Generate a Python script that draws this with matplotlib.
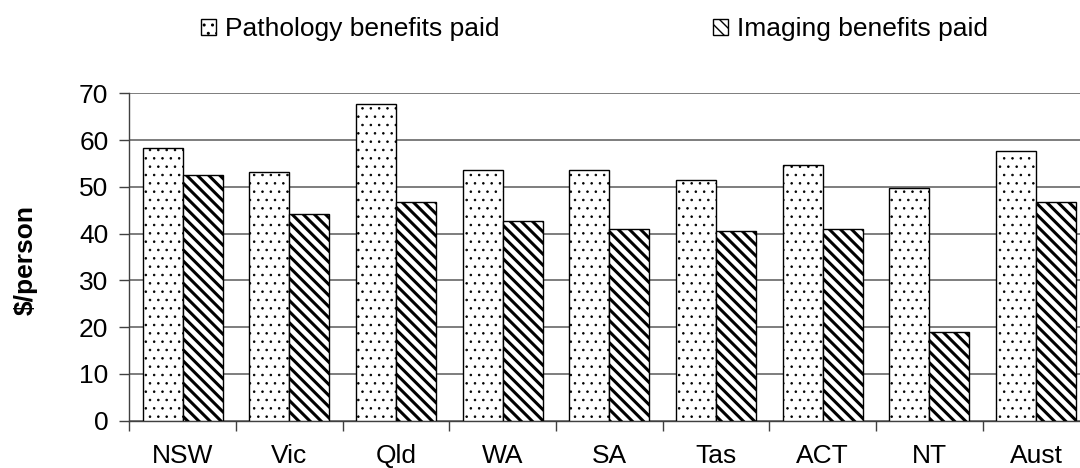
import matplotlib
matplotlib.use("Agg")
import matplotlib.pyplot as plt
import numpy as np

categories = ["NSW", "Vic", "Qld", "WA", "SA", "Tas", "ACT", "NT", "Aust"]
pathology = [58.2, 53.2, 67.7, 53.7, 53.5, 51.5, 54.7, 49.8, 57.7]
imaging = [52.5, 44.3, 46.8, 42.6, 41.0, 40.6, 41.0, 18.9, 46.8]
series_labels = ["Pathology benefits paid", "Imaging benefits paid"]
yticks = [0, 10, 20, 30, 40, 50, 60, 70]

plt.rcParams['font.family'] = ['Liberation Sans', 'DejaVu Sans']
FS = 19

fig = plt.figure(figsize=(10.8, 4.68), dpi=100)
ax = fig.add_axes([129.3 / 1080, 1 - 420.7 / 468, 960 / 1080, (420.7 - 93.3) / 468])

x = np.arange(len(categories))
w = 0.375

def make_bars(vals, offset, hatch, hlw):
    with plt.rc_context({'hatch.linewidth': hlw, 'hatch.color': 'black'}):
        bars = ax.bar(x + offset, vals, width=w, facecolor='white', edgecolor='black',
                      linewidth=1.0, hatch=hatch, zorder=3)
    for p in bars:
        if hasattr(p, 'set_hatch_linewidth'):
            p.set_hatch_linewidth(hlw)
    return bars

b1 = make_bars(pathology, -w / 2, '..', 0.6)
b2 = make_bars(imaging, w / 2, '\\\\\\', 2.2)

ax.set_xlim(-0.5, len(categories) - 0.5)
ax.set_ylim(0, 70)
ax.set_yticks(yticks)
ax.set_yticklabels([str(v) for v in yticks], fontsize=FS)
ax.yaxis.grid(True, color='#5a5a5a', linewidth=1.1, zorder=0)
ax.set_axisbelow(True)

ax.set_xticks(x)
ax.set_xticklabels(categories, fontsize=FS)
ax.set_xticks(np.arange(len(categories) + 1) - 0.5, minor=True)
ax.tick_params(axis='x', which='major', length=0, pad=17)
ax.tick_params(axis='x', which='minor', length=7, width=1.0, color='#404040', direction='out')
ax.tick_params(axis='y', length=7, width=1.0, color='#404040', pad=8, direction='out')

for s in ['top', 'right']:
    ax.spines[s].set_visible(False)
for s in ['left', 'bottom']:
    ax.spines[s].set_color('#404040')
    ax.spines[s].set_linewidth(1.0)

fig.text(26 / 1080, 1 - 260 / 468, "$/person", rotation=90, fontsize=FS, fontweight='bold',
         ha='center', va='center')

leg_kw = dict(frameon=False, fontsize=FS, handlelength=0.55, handleheight=0.55,
              handletextpad=0.35, borderpad=0, borderaxespad=0, loc='center left')
fig.legend([b1[0]], [series_labels[0]], bbox_to_anchor=(201 / 1080, 1 - 29 / 468), **leg_kw)
fig.legend([b2[0]], [series_labels[1]], bbox_to_anchor=(713 / 1080, 1 - 29 / 468), **leg_kw)

fig.savefig("out.png", dpi=100)
